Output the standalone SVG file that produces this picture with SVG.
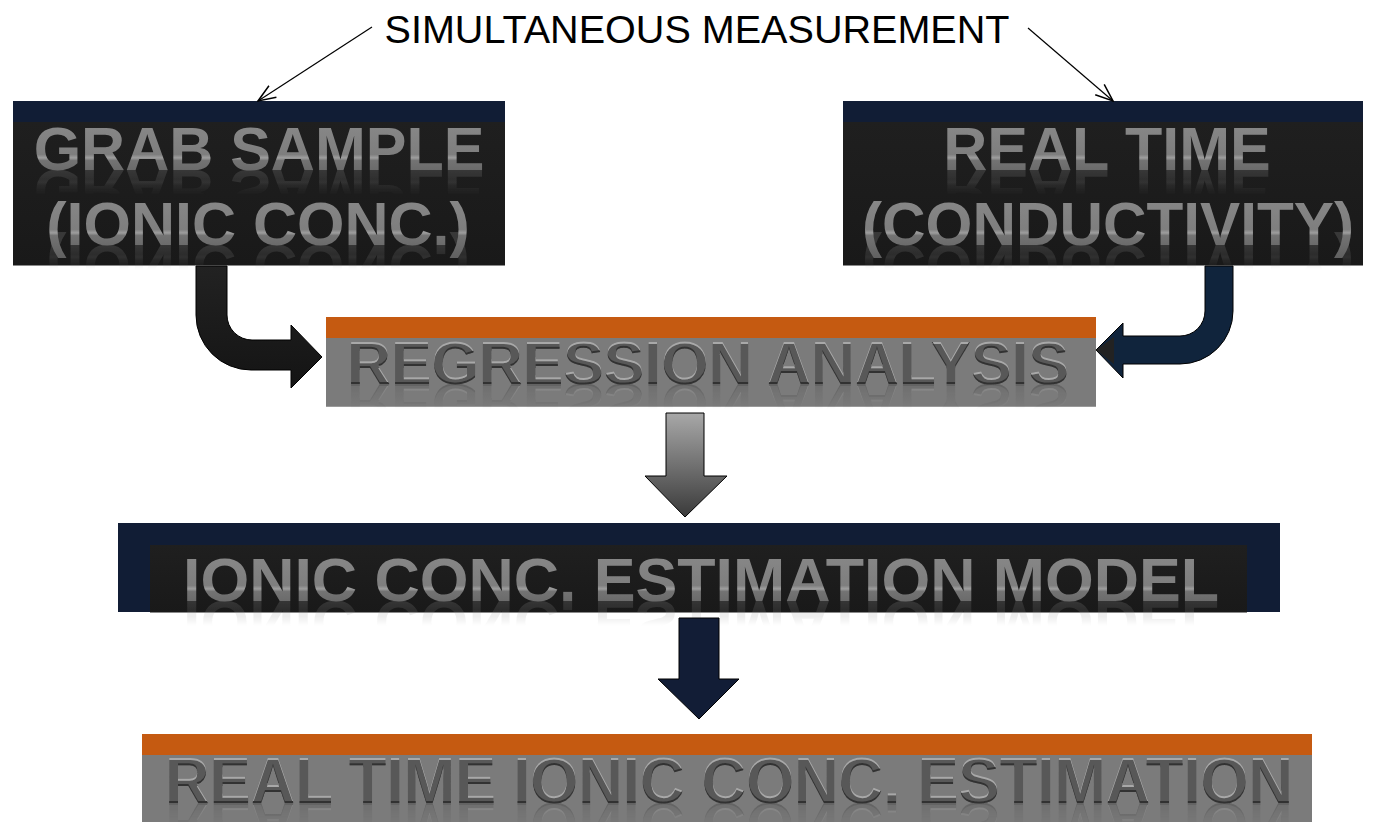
<svg xmlns="http://www.w3.org/2000/svg" width="1378" height="822" viewBox="0 0 1378 822">
<style>
.lbl{font-family:"Liberation Sans",Arial,sans-serif;font-size:39px;fill:#000}
.gl{font-family:"Liberation Sans",Arial,sans-serif;font-weight:bold;font-size:61px;fill:url(#gloss);text-anchor:middle}
.em{font-family:"Liberation Sans",Arial,sans-serif;font-weight:bold;fill:#585858;filter:url(#emboss)}
.navy{fill:#111d35}
.dark{fill:url(#darkG)}
.orange{fill:#c55a11}
.grey{fill:#7b7b7b}
.refl{mask:url(#fade)}
.thin{stroke:#000;stroke-width:1.2;fill:none}
</style>
<defs>
<linearGradient id="gloss" x1="0" y1="0" x2="0" y2="1">
<stop offset="0" stop-color="#8a8a8a"/>
<stop offset="0.58" stop-color="#7e7e7e"/>
<stop offset="0.63" stop-color="#9e9e9e"/>
<stop offset="0.67" stop-color="#737373"/>
<stop offset="1" stop-color="#606060"/>
</linearGradient>
<linearGradient id="darkG" x1="0" y1="0" x2="0" y2="1">
<stop offset="0" stop-color="#1f1f1f"/>
<stop offset="1" stop-color="#191919"/>
</linearGradient>
<linearGradient id="downG" x1="0" y1="0" x2="0" y2="1">
<stop offset="0" stop-color="#a8a8a8"/>
<stop offset="1" stop-color="#3a3a3a"/>
</linearGradient>
<linearGradient id="blackArrow" x1="0" y1="0" x2="0" y2="1">
<stop offset="0" stop-color="#222"/>
<stop offset="1" stop-color="#141414"/>
</linearGradient>
<linearGradient id="fadeG" x1="0" y1="1" x2="0" y2="0">
<stop offset="0" stop-color="#fff" stop-opacity="0.45"/>
<stop offset="0.19" stop-color="#fff" stop-opacity="0.4"/>
<stop offset="0.55" stop-color="#fff" stop-opacity="0"/>
</linearGradient>
<mask id="fade" maskUnits="objectBoundingBox" maskContentUnits="objectBoundingBox" x="-0.1" y="-0.1" width="1.2" height="1.2">
<rect x="-0.1" y="-0.1" width="1.2" height="1.2" fill="url(#fadeG)"/>
</mask>
<filter id="emboss" x="-5%" y="-10%" width="110%" height="120%">
<feOffset in="SourceAlpha" dx="0" dy="2" result="dn"/>
<feComposite in="SourceAlpha" in2="dn" operator="out" result="topEdge"/>
<feFlood flood-color="#a8a8a8"/>
<feComposite in2="topEdge" operator="in" result="hi"/>
<feOffset in="SourceAlpha" dx="0" dy="-2" result="up"/>
<feComposite in="SourceAlpha" in2="up" operator="out" result="botEdge"/>
<feFlood flood-color="#333"/>
<feComposite in2="botEdge" operator="in" result="sh"/>
<feMerge><feMergeNode in="SourceGraphic"/><feMergeNode in="hi"/><feMergeNode in="sh"/></feMerge>
</filter>
<marker id="open" markerUnits="userSpaceOnUse" markerWidth="20" markerHeight="20" viewBox="0 0 16 12" refX="15" refY="6" orient="auto">
<path d="M1,0.5 L15,6 L1,11.5" fill="none" stroke="#000" stroke-width="1.2"/>
</marker>
</defs>
<rect width="1378" height="822" fill="#fff"/>

<g id="label-simultaneous">
<text class="lbl" x="697" y="43" text-anchor="middle" textLength="625" lengthAdjust="spacingAndGlyphs">SIMULTANEOUS MEASUREMENT</text>
</g>

<g id="node-grab-sample">
<rect class="navy" x="13" y="101" width="492" height="21"/>
<rect class="dark" x="13" y="122" width="492" height="144"/>
<line x1="13" y1="265.5" x2="505" y2="265.5" stroke="#8a8a8a" stroke-width="1"/>
<use href="#t-grab1" class="refl" transform="translate(0,340) scale(1,-1)"/>
<use href="#t-grab2" class="refl" transform="translate(0,490) scale(1,-1)"/>
<text id="t-grab1" class="gl" x="259" y="170">GRAB SAMPLE</text>
<text id="t-grab2" class="gl" x="258" y="245">(IONIC CONC.)</text>
</g>

<g id="node-real-time">
<rect class="navy" x="843" y="101" width="520" height="21"/>
<rect class="dark" x="843" y="122" width="520" height="144"/>
<line x1="843" y1="265.5" x2="1363" y2="265.5" stroke="#8a8a8a" stroke-width="1"/>
<use href="#t-rt1" class="refl" transform="translate(0,340) scale(1,-1)"/>
<use href="#t-rt2" class="refl" transform="translate(0,490) scale(1,-1)"/>
<text id="t-rt1" class="gl" x="1107" y="170">REAL TIME</text>
<text id="t-rt2" class="gl" x="1108" y="245" textLength="492" lengthAdjust="spacingAndGlyphs">(CONDUCTIVITY)</text>
</g>

<g id="node-regression">
<rect class="orange" x="326" y="317" width="770" height="21"/>
<rect class="grey" x="326" y="338" width="770" height="69"/>
<line x1="326" y1="406.5" x2="1096" y2="406.5" stroke="#9a9a9a" stroke-width="1"/>
<use href="#t-reg" class="refl" transform="translate(0,768) scale(1,-1)"/>
<text id="t-reg" class="em" x="347" y="384" font-size="61" textLength="722" lengthAdjust="spacingAndGlyphs">REGRESSION ANALYSIS</text>
</g>

<g id="node-model">
<rect class="navy" x="118" y="523" width="1162" height="89"/>
<rect class="dark" x="150" y="545" width="1097" height="68"/>
<line x1="150" y1="612.5" x2="1247" y2="612.5" stroke="#8a8a8a" stroke-width="1"/>
<use href="#t-model" class="refl" transform="translate(0,1202) scale(1,-1)"/>
<text id="t-model" class="gl" x="183" y="601" font-size="73" style="text-anchor:start" textLength="1036" lengthAdjust="spacingAndGlyphs">IONIC CONC. ESTIMATION MODEL</text>
</g>

<g id="node-estimation">
<rect class="orange" x="142" y="734" width="1170" height="21"/>
<rect class="grey" x="142" y="755" width="1170" height="67"/>
<use href="#t-est" class="refl" transform="translate(0,1606) scale(1,-1)"/>
<text id="t-est" class="em" x="165" y="803" font-size="64" textLength="1128" lengthAdjust="spacingAndGlyphs">REAL TIME IONIC CONC. ESTIMATION</text>
</g>

<g id="connectors">
<line class="thin" x1="372" y1="27" x2="258" y2="101" marker-end="url(#open)"/>
<line class="thin" x1="1028" y1="28" x2="1113" y2="101" marker-end="url(#open)"/>
<path d="M196,266 L227,266 L227,315 A25,25 0 0 0 252,340 L291,340 L291,325 L322,357 L291,388 L291,370 L251,370 A55,55 0 0 1 196,315 Z" fill="url(#blackArrow)" stroke="#000" stroke-width="1"/>
<path d="M1205,266 L1233,266 L1233,311 A53,53 0 0 1 1180,364 L1123,364 L1123,378 L1096,350 L1123,323 L1123,336 L1180,336 A25,25 0 0 0 1205,311 Z" fill="#10243c" stroke="#000" stroke-width="1"/>
<polygon points="1096,350 1114,337 1114,364" fill="#222"/>
<path d="M666,413 L704,413 L704,476 L727,476 L685,517 L645,476 L666,476 Z" fill="url(#downG)" stroke="#000" stroke-width="1"/>
<path d="M679,618 L719,618 L719,679 L739,679 L699,719 L658,679 L679,679 Z" fill="#121d36" stroke="#000" stroke-width="1"/>
</g>
</svg>
